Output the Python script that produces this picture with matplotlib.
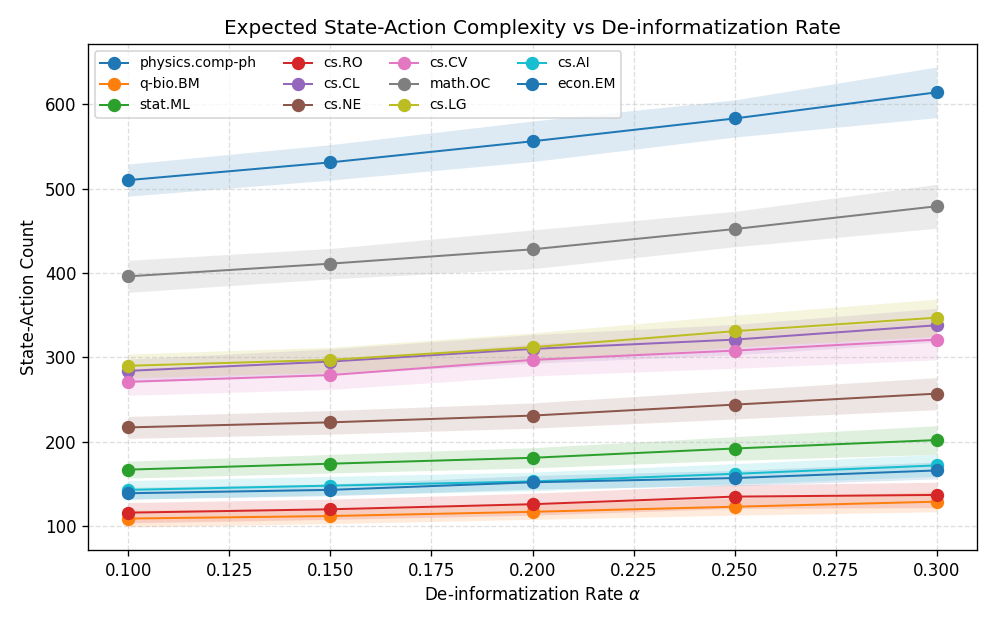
import numpy as np
import matplotlib
matplotlib.use("Agg")
import matplotlib.pyplot as plt

# de-informatization rates
alphas = [0.10, 0.15, 0.20, 0.25, 0.30]

# mean state-action counts per category
categories = ["physics.comp-ph", "q-bio.BM", "stat.ML", "cs.RO", "cs.CL", "cs.NE",
              "cs.CV", "math.OC", "cs.LG", "cs.AI", "econ.EM"]

physics_comp_ph = [510, 531, 556, 583, 614]
q_bio_bm = [109, 112, 117, 123, 129]
stat_ml = [167, 174, 181, 192, 202]
cs_ro = [116, 120, 126, 135, 137]
cs_cl = [284, 295, 310, 321, 338]
cs_ne = [217, 223, 231, 244, 257]
cs_cv = [271, 279, 297, 308, 321]
math_oc = [396, 411, 428, 452, 479]
cs_lg = [290, 297, 312, 331, 347]
cs_ai = [143, 148, 153, 162, 172]
econ_em = [139, 143, 152, 157, 166]

# half-width of shaded band
physics_comp_ph_sd = [19, 21, 24, 22, 30]
q_bio_bm_sd = [10, 9, 9, 10, 12]
stat_ml_sd = [10, 11, 12, 14, 17]
cs_ro_sd = [12, 12, 13, 14, 15]
cs_cl_sd = [14, 15, 17, 18, 20]
cs_ne_sd = [13, 14, 15, 17, 19]
cs_cv_sd = [16, 17, 19, 21, 24]
math_oc_sd = [19, 18, 23, 21, 26]
cs_lg_sd = [14, 15, 17, 19, 22]
cs_ai_sd = [11, 11, 11, 12, 13]
econ_em_sd = [7, 7, 8, 9, 10]

means = [physics_comp_ph, q_bio_bm, stat_ml, cs_ro, cs_cl, cs_ne,
         cs_cv, math_oc, cs_lg, cs_ai, econ_em]
spreads = [physics_comp_ph_sd, q_bio_bm_sd, stat_ml_sd, cs_ro_sd, cs_cl_sd, cs_ne_sd,
           cs_cv_sd, math_oc_sd, cs_lg_sd, cs_ai_sd, econ_em_sd]

fig, ax = plt.subplots(figsize=(8.3, 623 / 120), dpi=120)

for i, (name, m, s) in enumerate(zip(categories, means, spreads)):
    color = "C%d" % (i % 10)
    m = np.array(m, dtype=float)
    s = np.array(s, dtype=float)
    ax.plot(alphas, m, marker="o", markersize=7, linewidth=1.2, color=color, label=name)
    ax.fill_between(alphas, m - s, m + s, color=color, alpha=0.15, linewidth=0)

ax.set_title("Expected State-Action Complexity vs De-informatization Rate", fontsize=12)
ax.set_xlabel(r"De-informatization Rate $\alpha$", fontsize=10)
ax.set_ylabel("State-Action Count", fontsize=10)
ax.grid(True, linestyle="--", alpha=0.4)
ax.legend(ncol=4, loc="upper left", fontsize="small")

fig.subplots_adjust(left=88 / 996, right=977 / 996, top=1 - 44 / 623, bottom=1 - 550 / 623)
plt.savefig("out.png", dpi=120)
